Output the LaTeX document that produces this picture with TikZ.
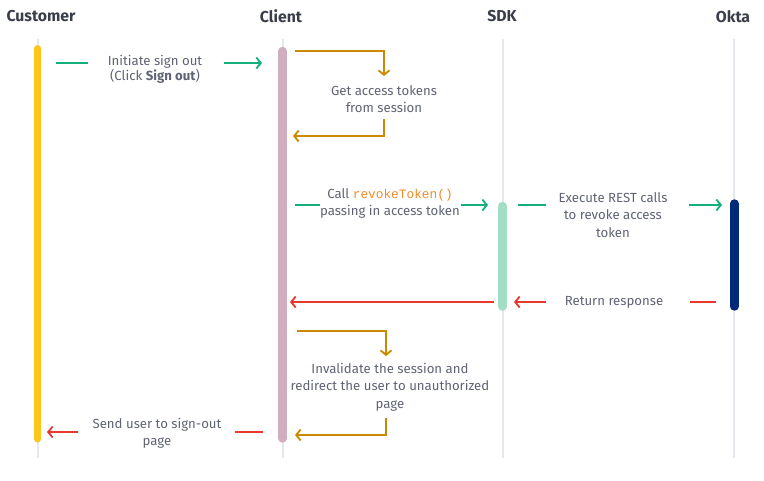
\documentclass[tikz,border=0pt]{standalone}
\usepackage{fontspec}
\setmainfont{Fira Sans}
\newfontfamily\codefont{Liberation Mono}
\usetikzlibrary{arrows.meta,positioning,calc}

\definecolor{txtgray}{HTML}{5F6373}
\definecolor{headgray}{HTML}{3A3E4A}
\definecolor{okgreen}{HTML}{14B07A}
\definecolor{retred}{HTML}{E8392F}
\definecolor{selfgold}{HTML}{CC8800}
\definecolor{codeorange}{HTML}{EE8A2A}
\definecolor{lifegray}{HTML}{E5E8EC}
\definecolor{custyellow}{HTML}{FFC61A}
\definecolor{clientpink}{HTML}{D0AEBF}
\definecolor{sdkgreen}{HTML}{A2DEC6}
\definecolor{oktanavy}{HTML}{00297A}

\tikzset{
  head/.style={font=\fontsize{15.8}{17}\selectfont\bfseries, text=headgray},
  msgtext/.style={font=\fontsize{13.2}{17.5}\selectfont, text=txtgray, align=center, inner sep=0pt},
  lifeline/.style={draw=lifegray, line width=2pt},
  actbar/.style={line width=8.4pt, line cap=round},
  msg/.style={line width=1.8pt},
  tip/.style={-{Straight Barb[length=4.5pt,width=11pt]}},
}

\begin{document}
\begin{tikzpicture}[x=1pt,y=-1pt]
    \useasboundingbox (0,0) rectangle (764,480);

    % Headers
    \node[head] (customer) at (41,16) {Customer};
    \node[head] (client) at (281,16) {Client};
    \node[head] (sdk) at (502,16) {SDK};
    \node[head] (okta) at (733,17) {Okta};

    % Lifelines
    \foreach \n/\x in {cust/37.7, cli/282.5, sdkl/502.5, okl/734.3} {
        \coordinate (\n top) at (\x,39);
        \coordinate (\n bot) at (\x,458);
        \draw[lifeline] (\n top) -- (\n bot);
    }

    % Activation bars
    \draw[actbar, custyellow, line width=7pt] (37.7,48.5) -- (37.7,439);
    \draw[actbar, clientpink] (282.5,51) -- (282.5,438.5);
    \draw[actbar, sdkgreen] (502.5,206) -- (502.5,306.5);
    \draw[actbar, oktanavy] (734.3,203.5) -- (734.3,306.5);

    % Initiate sign out
    \node[msgtext, font=\fontsize{13.2}{15}\selectfont] (initiate) at (155,69.5) {Initiate sign out\\(Click \textbf{Sign out})};
    \coordinate (i1) at (56,63); \coordinate (i2) at (88,63);
    \coordinate (i3) at (224,63); \coordinate (i4) at (262,63);
    \draw[msg, okgreen] (i1) -- (i2);
    \draw[msg, okgreen, tip] (i3) -- (i4);

    % Get access tokens
    \coordinate (g1) at (295,51); \coordinate (g2) at (384,51); \coordinate (g3) at (384,76);
    \draw[msg, selfgold, tip] (g1) -- (g2) -- (g3);
    \node[msgtext] (gettok) at (384,99) {Get access tokens\\from session};
    \coordinate (g4) at (384,119); \coordinate (g5) at (384,136); \coordinate (g6) at (293,136);
    \draw[msg, selfgold, tip] (g4) -- (g5) -- (g6);

    % Call revokeToken()
    \node[msgtext] (callrev) at (390,203.5) {Call {\codefont\fontsize{12.8}{17.5}\selectfont\color{codeorange}revokeToken()}\\passing in access token};
    \coordinate (r1) at (295,205); \coordinate (r2) at (320,205);
    \coordinate (r3) at (461,205); \coordinate (r4) at (488,205);
    \draw[msg, okgreen] (r1) -- (r2);
    \draw[msg, okgreen, tip] (r3) -- (r4);

    % Execute REST calls
    \node[msgtext] (execrest) at (613,215) {Execute REST calls\\to revoke access\\token};
    \coordinate (e1) at (518,205); \coordinate (e2) at (546,205);
    \coordinate (e3) at (689,205); \coordinate (e4) at (722,205);
    \draw[msg, okgreen] (e1) -- (e2);
    \draw[msg, okgreen, tip] (e3) -- (e4);

    % Return response
    \node[msgtext] (retresp) at (614,302.5) {Return response};
    \coordinate (t1) at (716,302); \coordinate (t2) at (690,302);
    \coordinate (t3) at (546,302); \coordinate (t4) at (514,302);
    \draw[msg, retred] (t1) -- (t2);
    \draw[msg, retred, tip] (t3) -- (t4);
    \coordinate (t5) at (494,302); \coordinate (t6) at (290,302);
    \draw[msg, retred, tip] (t5) -- (t6);

    % Invalidate the session
    \coordinate (v1) at (297,331); \coordinate (v2) at (386,331); \coordinate (v3) at (386,356);
    \draw[msg, selfgold, tip] (v1) -- (v2) -- (v3);
    \node[msgtext] (invalid) at (390,387) {Invalidate the session and\\redirect the user to unauthorized\\page};
    \coordinate (v4) at (386,418); \coordinate (v5) at (386,435); \coordinate (v6) at (295,435);
    \draw[msg, selfgold, tip] (v4) -- (v5) -- (v6);

    % Send user to sign-out page
    \node[msgtext] (senduser) at (157,433.5) {Send user to sign-out\\page};
    \coordinate (u1) at (263,432); \coordinate (u2) at (235,432);
    \coordinate (u3) at (78,432); \coordinate (u4) at (47,432);
    \draw[msg, retred] (u1) -- (u2);
    \draw[msg, retred, tip] (u3) -- (u4);
\end{tikzpicture}
\end{document}
